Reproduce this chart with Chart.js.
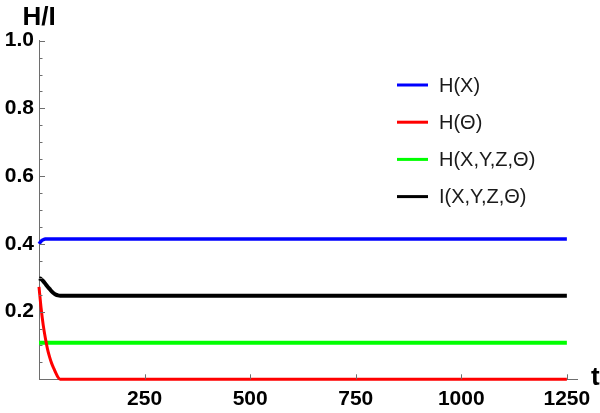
<!DOCTYPE html>
<html>
<head>
<meta charset="utf-8">
<script src="https://cdn.jsdelivr.net/npm/chart.js@4"></script>
<style>
  html, body { margin: 0; padding: 0; background: #fff; }
  canvas { display: block; }
</style>
</head>
<body>
<canvas id="chart" width="600" height="413"></canvas>
<script>
// time points (t)
const times = [0, 5, 10, 15, 20, 25, 30, 35, 40, 45, 50, 60, 80, 100, 250, 500, 750, 1000, 1250];

// series values
const hX       = [0.400, 0.408, 0.412, 0.414, 0.414, 0.414, 0.414, 0.414, 0.414, 0.414, 0.414, 0.414, 0.414, 0.414, 0.414, 0.414, 0.414, 0.414, 0.414];
const hTheta   = [0.273, 0.210, 0.160, 0.122, 0.090, 0.066, 0.047, 0.032, 0.018, 0.006, 0.000, 0.000, 0.000, 0.000, 0.000, 0.000, 0.000, 0.000, 0.000];
const hXYZT    = [0.108, 0.108, 0.108, 0.108, 0.108, 0.108, 0.108, 0.108, 0.108, 0.108, 0.108, 0.108, 0.108, 0.108, 0.108, 0.108, 0.108, 0.108, 0.108];
const iXYZT    = [0.298, 0.296, 0.290, 0.282, 0.274, 0.267, 0.260, 0.254, 0.250, 0.248, 0.247, 0.247, 0.247, 0.247, 0.247, 0.247, 0.247, 0.247, 0.247];

const seriesNames = ['H(X)', 'H(\u0398)', 'H(X,Y,Z,\u0398)', 'I(X,Y,Z,\u0398)'];
const seriesColors = ['#0000ff', '#ff0000', '#00ff00', '#000000'];

// tick labels
const xTickValues = [250, 500, 750, 1000, 1250];
const yTickValues = [0.2, 0.4, 0.6, 0.8, 1.0];

const toPoints = (vals) => vals.map((v, i) => ({ x: times[i], y: v }));

const axisColor = '#6e6e6e';
const tickFont = { family: '"Liberation Sans", Arial, sans-serif', size: 21, weight: 'bold' };

// Mathematica style ticks: drawn inside the frame, minor ticks on y
const insideTicks = {
  id: 'insideTicks',
  afterDatasetsDraw(chart) {
    const { ctx, chartArea, scales: { x, y } } = chart;
    ctx.save();
    ctx.strokeStyle = axisColor;
    ctx.lineWidth = 1;
    for (let k = 1; k <= 20; k++) {
      const v = k * 0.05;
      const py = Math.round(y.getPixelForValue(v)) + 0.5;
      const len = k % 4 === 0 ? 6 : 3.5;
      ctx.beginPath();
      ctx.moveTo(chartArea.left, py);
      ctx.lineTo(chartArea.left + len, py);
      ctx.stroke();
    }
    xTickValues.forEach(v => {
      const px = Math.round(x.getPixelForValue(v)) + 0.5;
      ctx.beginPath();
      ctx.moveTo(px, chartArea.bottom);
      ctx.lineTo(px, chartArea.bottom - 5);
      ctx.stroke();
    });

    // axis labels
    ctx.fillStyle = '#000';
    ctx.font = 'bold 26px "Liberation Sans", Arial, sans-serif';
    ctx.textAlign = 'center';
    ctx.textBaseline = 'alphabetic';
    ctx.fillText('H/I', chartArea.left, 25);
    ctx.textAlign = 'left';
    ctx.fillText('t', 591, 385);

    // legend
    ctx.font = '20px "Liberation Sans", Arial, sans-serif';
    ctx.textBaseline = 'middle';
    chart.data.datasets.forEach((ds, i) => {
      const ly = 85 + i * 37.2;
      ctx.strokeStyle = ds.borderColor;
      ctx.lineWidth = 3;
      ctx.beginPath();
      ctx.moveTo(397, ly);
      ctx.lineTo(428, ly);
      ctx.stroke();
      ctx.fillStyle = '#1a1a1a';
      ctx.fillText(ds.label, 439, ly + 1);
    });
    ctx.restore();
  }
};

new Chart(document.getElementById('chart'), {
  type: 'line',
  data: {
    datasets: [
      { label: seriesNames[0], data: toPoints(hX), borderColor: seriesColors[0], borderWidth: 3.5 },
      { label: seriesNames[1], data: toPoints(hTheta), borderColor: seriesColors[1], borderWidth: 3 },
      { label: seriesNames[2], data: toPoints(hXYZT), borderColor: seriesColors[2], borderWidth: 4 },
      { label: seriesNames[3], data: toPoints(iXYZT), borderColor: seriesColors[3], borderWidth: 4 },
    ].map(ds => Object.assign(ds, { pointRadius: 0, cubicInterpolationMode: 'monotone', clip: 6, fill: false })),
  },
  plugins: [insideTicks],
  options: {
    responsive: false,
    animation: false,
    devicePixelRatio: 1,
    layout: { padding: { top: 40.7, right: 23, left: 0, bottom: 0 } },
    plugins: { legend: { display: false }, tooltip: { enabled: false } },
    scales: {
      x: {
        type: 'linear',
        min: 0,
        max: 1274,
        afterBuildTicks: (scale) => { scale.ticks = xTickValues.map(v => ({ value: v })); },
        afterFit: (scale) => { scale.height = 33.7; scale.paddingLeft = 0; scale.paddingRight = 0; },
        grid: { display: false, drawTicks: false },
        border: { display: true, color: axisColor, width: 1 },
        ticks: {
          padding: 7,
          color: '#000',
          maxRotation: 0,
          autoSkip: false,
          font: tickFont,
          callback: (v) => String(v),
        },
      },
      y: {
        type: 'linear',
        min: 0,
        max: 1.0,
        afterBuildTicks: (scale) => { scale.ticks = yTickValues.map(v => ({ value: v })); },
        afterFit: (scale) => { scale.width = 39; scale.paddingTop = 0; scale.paddingBottom = 0; },
        grid: { display: false, drawTicks: false },
        border: { display: true, color: axisColor, width: 1 },
        ticks: {
          padding: 5,
          color: '#000',
          autoSkip: false,
          font: tickFont,
          callback: (v) => v.toFixed(1),
        },
      },
    },
  },
});
</script>
</body>
</html>
